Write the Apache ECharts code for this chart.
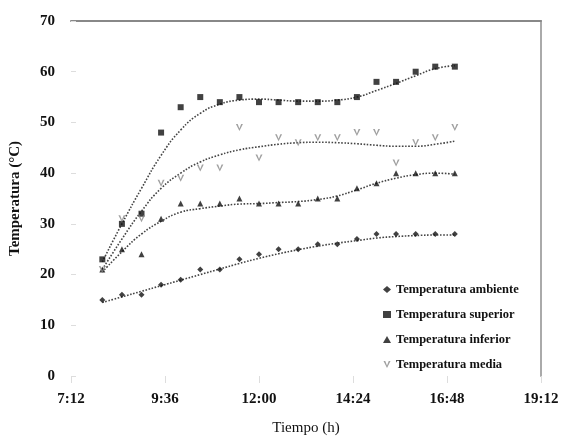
<!DOCTYPE html>
<html>
<head>
<meta charset="utf-8">
<script src="https://cdn.jsdelivr.net/npm/echarts@6/dist/echarts.min.js"></script>
<style>html,body{margin:0;padding:0;background:#fff}#c{width:568px;height:441px}</style>
</head>
<body>
<div id="c"></div>
<script>
// Time in minutes after midnight (8:00 .. 17:00 every 30 min)
const times = [480,510,540,570,600,630,660,690,720,750,780,810,840,870,900,930,960,990,1020];
const ambiente = [15,16,16,18,19,21,21,23,24,25,25,26,26,27,28,28,28,28,28];
const superior = [23,30,32,48,53,55,54,55,54,54,54,54,54,55,58,58,60,61,61];
const inferior = [21,25,24,31,34,34,34,35,34,34,34,35,35,37,38,40,40,40,40];
const media = [21,31,31,38,39,41,41,49,43,47,46,47,47,48,48,42,46,47,49];
// Trendline values at the same times
const trendAmbiente = [14.5,15.6,16.7,17.8,18.9,20,21.1,22.2,23.2,24.1,24.9,25.6,26.2,26.7,27.2,27.5,27.7,27.8,27.8];
const trendSuperior = [22.5,30,37,43.5,48.5,51.8,53.6,54.4,54.6,54.4,54.2,54.2,54.4,55,56.3,57.7,59.2,60.6,61.2];
const trendInferior = [20.5,24.5,28,30.5,32.3,33,33.5,33.9,34,34.2,34.4,34.8,35.5,36.7,38,39,39.7,40,39.8];
const trendMedia = [21,27,32.5,37,40,42.2,43.6,44.6,45.2,45.7,46,46.1,46,45.8,45.5,45.3,45.3,45.7,46.3];
const seriesNames = ['Temperatura ambiente','Temperatura superior','Temperatura inferior','Temperatura media'];
const xMin = 432, xMax = 1152, xStep = 144;
const yMin = 0, yMax = 70, yStep = 10;

const pair = (ys) => times.map((t, i) => [t, ys[i]]);
const fmt = (v) => { const h = Math.floor(v / 60), m = Math.round(v % 60); return h + ':' + (m < 10 ? '0' : '') + m; };
const serif = 'Liberation Serif';
const vShape = 'path://M0,0 L2.5,0 L5,6.5 L7.5,0 L10,0 L5,10 Z';

const chart = echarts.init(document.getElementById('c'));
const trendStyle = { type: 'dotted', color: '#444', width: 1.6 };
const mkTrend = (ys) => ({ type: 'line', data: pair(ys), smooth: 0.5, showSymbol: false, symbol: 'none', lineStyle: trendStyle, silent: true, z: 1 });

chart.setOption({
  animation: false,
  backgroundColor: '#fff',
  grid: { left: 65, right: 27, top: 21, bottom: 63 },
  legend: {
    data: seriesNames,
    orient: 'vertical',
    left: 378, top: 278,
    itemWidth: 8, itemHeight: 7, itemGap: 12,
    textStyle: { fontFamily: serif, fontWeight: 'bold', fontSize: 12.5, color: '#111' }
  },
  xAxis: [{
    type: 'value', min: xMin, max: xMax, interval: xStep,
    name: 'Tiempo (h)', nameLocation: 'middle', nameGap: 45,
    nameTextStyle: { fontFamily: serif, fontSize: 15, color: '#111' },
    axisLine: { show: false },
    axisTick: { show: true, inside: false, length: 7, lineStyle: { color: '#ddd' } },
    axisLabel: { formatter: fmt, fontFamily: serif, fontWeight: 'bold', fontSize: 15, color: '#111', margin: 16 },
    splitLine: { show: false }
  }, {
    type: 'value', min: xMin, max: xMax, position: 'top',
    axisLine: { show: true, onZero: false, lineStyle: { color: '#888', width: 2 } },
    axisTick: { show: false }, axisLabel: { show: false }, splitLine: { show: false }
  }],
  yAxis: [{
    type: 'value', min: yMin, max: yMax, interval: yStep,
    name: 'Temperatura (°C)', nameLocation: 'middle', nameGap: 48, nameRotate: 90,
    nameTextStyle: { fontFamily: serif, fontWeight: 'bold', fontSize: 15, color: '#111' },
    axisLine: { show: false },
    axisTick: { show: true, inside: true, length: 5, lineStyle: { color: '#ddd' } },
    axisLabel: { fontFamily: serif, fontWeight: 'bold', fontSize: 15, color: '#111', margin: 16 },
    splitLine: { show: false }
  }, {
    type: 'value', min: yMin, max: yMax, position: 'right',
    axisLine: { show: true, onZero: false, lineStyle: { color: '#aaa', width: 2 } },
    axisTick: { show: false }, axisLabel: { show: false }, splitLine: { show: false }
  }],
  series: [
    mkTrend(trendAmbiente), mkTrend(trendSuperior), mkTrend(trendInferior), mkTrend(trendMedia),
    { name: seriesNames[0], type: 'scatter', data: pair(ambiente), symbol: 'diamond', symbolSize: 6, itemStyle: { color: '#111' }, z: 3 },
    { name: seriesNames[1], type: 'scatter', data: pair(superior), symbol: 'rect', symbolSize: 6, itemStyle: { color: '#111' }, z: 3 },
    { name: seriesNames[2], type: 'scatter', data: pair(inferior), symbol: 'triangle', symbolSize: 6, itemStyle: { color: '#111' }, z: 3 },
    { name: seriesNames[3], type: 'scatter', data: pair(media), symbol: vShape, symbolSize: 7, itemStyle: { color: '#888' }, z: 3 }
  ]
});
</script>
</body>
</html>
